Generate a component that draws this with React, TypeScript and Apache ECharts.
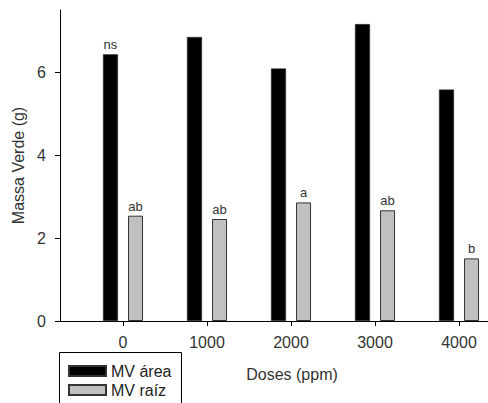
import React, { useEffect, useRef } from "react";
import * as echarts from "echarts";

const doses = [0, 1000, 2000, 3000, 4000];
const mvArea = [6.43, 6.85, 6.09, 7.16, 5.58];
const mvRaiz = [2.54, 2.46, 2.86, 2.67, 1.51];
const areaLetters = ["ns", "", "", "", ""];
const raizLetters = ["ab", "ab", "a", "ab", "b"];
const yTicks = [0, 2, 4, 6];

const FONT = "'Liberation Sans', Arial, sans-serif";

export default function App() {
  const ref = useRef<HTMLDivElement>(null);
  useEffect(() => {
    if (!ref.current) return;
    const chart = echarts.init(ref.current, undefined, { renderer: "svg" });
    const mk = (vals: number[], letters: string[]) =>
      vals.map((v, i) => ({
        value: [doses[i], v],
        label: {
          show: letters[i] !== "",
          formatter: letters[i],
        },
      }));
    chart.setOption({
      animation: false,
      textStyle: { fontFamily: FONT },
      grid: { left: 60, right: 0, top: 10, bottom: 82, containLabel: false },
      xAxis: {
        type: "value",
        min: -750,
        max: 4345,
        splitLine: { show: false },
        axisLine: { show: true, onZero: false, lineStyle: { color: "#000", width: 1 } },
        axisTick: {
          show: true,
          length: 5,
          customValues: doses,
          lineStyle: { color: "#000" },
        },
        axisLabel: {
          customValues: doses,
          formatter: (v: number) => String(v),
          fontSize: 16,
          color: "#333",
          margin: 13,
          fontFamily: FONT,
        },
      },
      yAxis: {
        type: "value",
        min: 0,
        max: 7.5,
        splitLine: { show: false },
        axisLine: { show: true, onZero: false, lineStyle: { color: "#000", width: 1 } },
        axisTick: { show: true, length: 5, customValues: yTicks, lineStyle: { color: "#000" } },
        axisLabel: {
          customValues: yTicks,
          fontSize: 16,
          color: "#333",
          margin: 14,
          fontFamily: FONT,
        },
        name: "Massa Verde (g)",
        nameLocation: "middle",
        nameGap: 32,
        nameTextStyle: { fontSize: 16, color: "#333", fontFamily: FONT },
      },
      legend: {
        orient: "vertical",
        left: 59,
        top: 352,
        itemWidth: 37,
        itemHeight: 10,
        itemGap: 3,
        itemTextGap: 8,
        icon: "rect",
        borderWidth: 0,
        padding: [11, 10, 0, 9],
        textStyle: { fontSize: 16, color: "#222", fontFamily: FONT },
        data: ["MV área", "MV raíz"],
      },
      graphic: [
        {
          type: "rect",
          z: -1,
          shape: { x: 59.5, y: 352.5, width: 122, height: 60 },
          style: { fill: "#fff", stroke: "#000", lineWidth: 1 },
        },
        {
          type: "text",
          x: 292,
          y: 374,
          style: {
            text: "Doses (ppm)",
            fontSize: 16,
            fill: "#333",
            fontFamily: FONT,
            textAlign: "center",
            textVerticalAlign: "middle",
          },
        },
      ],
      series: [
        {
          name: "MV área",
          type: "bar",
          barWidth: 15,
          barGap: "67%",
          itemStyle: { color: "#000", borderColor: "#333", borderWidth: 0.5 },
          label: {
            position: "top",
            distance: 3,
            fontSize: 13,
            color: "#333",
            fontFamily: FONT,
          },
          data: mk(mvArea, areaLetters),
        },
        {
          name: "MV raíz",
          type: "bar",
          barWidth: 15,
          barGap: "67%",
          itemStyle: { color: "#c0c0c0", borderColor: "#333", borderWidth: 1 },
          label: {
            position: "top",
            distance: 3,
            fontSize: 13,
            color: "#333",
            fontFamily: FONT,
          },
          data: mk(mvRaiz, raizLetters),
        },
      ],
    });
    return () => chart.dispose();
  }, []);
  return (
    <div
      ref={ref}
      style={{ position: "fixed", left: 0, top: 0, width: 488, height: 403, background: "#fff" }}
    />
  );
}
